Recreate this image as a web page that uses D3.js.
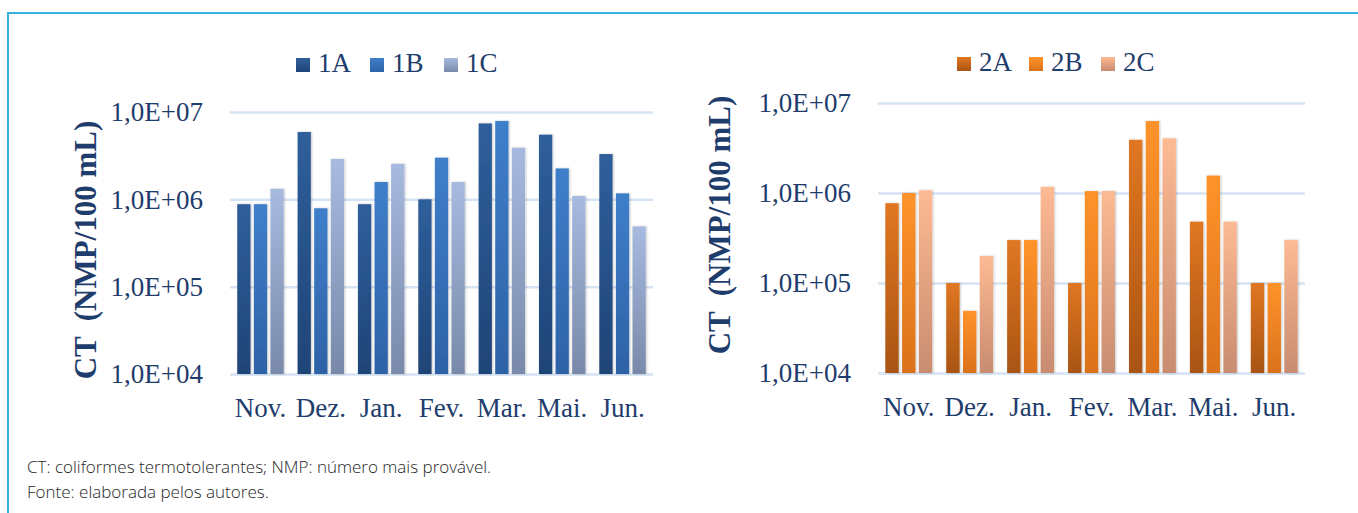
<!DOCTYPE html>
<html>
<head>
<meta charset="utf-8">
<script src="https://cdn.jsdelivr.net/npm/d3@7"></script>
<style>
	body { margin: 0; background: #fff; }
	svg { display: block; }
</style>
</head>
<body>
<script>
(function () {
	"use strict";

	// data
	var months = ["Nov.", "Dez.", "Jan.", "Fev.", "Mar.", "Mai.", "Jun."];
	var yTicks = [1e4, 1e5, 1e6, 1e7];
	var yTickLabels = ["1,0E+04", "1,0E+05", "1,0E+06", "1,0E+07"];
	var yTitle = "CT  (NMP/100 mL)";

	var series1 = ["1A", "1B", "1C"];
	var values1A = [8.8e5, 5.9e6, 8.8e5, 1.0e6, 7.4e6, 5.5e6, 3.3e6];
	var values1B = [8.8e5, 7.9e5, 1.58e6, 3.0e6, 7.9e6, 2.26e6, 1.17e6];
	var values1C = [1.32e6, 2.9e6, 2.55e6, 1.58e6, 3.9e6, 1.09e6, 4.9e5];

	var series2 = ["2A", "2B", "2C"];
	var values2A = [7.7e5, 1.0e5, 3.0e5, 1.0e5, 3.9e6, 4.8e5, 1.0e5];
	var values2B = [1.0e6, 4.9e4, 3.0e5, 1.05e6, 6.3e6, 1.56e6, 1.0e5];
	var values2C = [1.07e6, 2.0e5, 1.17e6, 1.05e6, 4.05e6, 4.8e5, 3.0e5];

	var notes = [
		"CT: coliformes termotolerantes; NMP: número mais provável.",
		"Fonte: elaborada pelos autores."
	];

	var w = 1358;
	var h = 513;
	var serif = "'Liberation Serif', 'Times New Roman', serif";
	var ink = "#1f3d6c";

	var svg = d3.select("body")
		.append("svg")
		.attr("width", w)
		.attr("height", h);

	var defs = svg.append("defs");

	var shadow = defs.append("filter")
		.attr("id", "shadow")
		.attr("x", "-30%").attr("y", "-5%")
		.attr("width", "160%").attr("height", "110%");
	shadow.append("feDropShadow")
		.attr("dx", 1).attr("dy", 0)
		.attr("stdDeviation", 1.2)
		.attr("flood-color", "#000")
		.attr("flood-opacity", 0.22);

	function gradient(id, top, bottom) {
		var g = defs.append("linearGradient")
			.attr("id", id)
			.attr("x1", 0).attr("y1", 0)
			.attr("x2", 0).attr("y2", 1);
		g.append("stop").attr("offset", "0%").attr("stop-color", top);
		g.append("stop").attr("offset", "100%").attr("stop-color", bottom);
		return "url(#" + id + ")";
	}

	// frame
	svg.append("path")
		.attr("d", "M8,513 V13 H1358")
		.attr("fill", "none")
		.attr("stroke", "#35b3de")
		.attr("stroke-width", 2);

	function buildChart(o) {
		var g = svg.append("g");

		var y = d3.scaleLog()
			.domain([1e4, 1e7])
			.range([o.bottom, o.top]);

		var x0 = d3.scaleBand()
			.domain(months)
			.range([o.left, o.right])
			.paddingInner(0.23)
			.paddingOuter(0.12);

		var x1 = d3.scaleBand()
			.domain(o.series)
			.range([0, x0.bandwidth()])
			.paddingInner(0.2);

		// gridlines + labels
		var yAxis = g.append("g")
			.attr("transform", "translate(" + o.left + ",0)")
			.call(d3.axisLeft(y)
				.tickValues(yTicks)
				.tickFormat(function (d, i) { return yTickLabels[i]; })
				.tickSize(-(o.right - o.left))
				.tickPadding(27));
		yAxis.select(".domain").remove();
		yAxis.selectAll("line")
			.attr("stroke", "#d5e3f3")
			.attr("stroke-width", 2.5);
		yAxis.selectAll("text")
			.attr("font-family", serif)
			.attr("font-size", 27)
			.attr("fill", ink)
			.attr("dy", "0.33em");

		var fills = o.series.map(function (s, i) {
			return gradient("grad" + s, o.colors[i][0], o.colors[i][1]);
		});

		// bars
		var rows = months.map(function (m, mi) {
			return o.series.map(function (s, si) {
				return { month: m, key: s, si: si, value: o.values[si][mi] };
			});
		});

		g.append("g")
			.selectAll("g")
			.data(rows)
			.enter().append("g")
			.attr("transform", function (d) { return "translate(" + x0(d[0].month) + ",0)"; })
			.selectAll("rect")
			.data(function (d) { return d; })
			.enter().append("rect")
			.attr("x", function (d) { return x1(d.key); })
			.attr("y", function (d) { return y(d.value); })
			.attr("width", x1.bandwidth())
			.attr("height", function (d) { return y(1e4) - y(d.value); })
			.attr("fill", function (d) { return fills[d.si]; })
			.attr("filter", "url(#shadow)");

		// month labels
		var xAxis = g.append("g")
			.attr("transform", "translate(0," + o.bottom + ")")
			.call(d3.axisBottom(x0).tickSize(0).tickPadding(24));
		xAxis.select(".domain").remove();
		xAxis.selectAll("text")
			.attr("font-family", serif)
			.attr("font-size", 27)
			.attr("fill", ink);

		// axis title
		g.append("text")
			.attr("transform", "translate(" + o.titleX + "," + o.titleY + ") rotate(-90)")
			.attr("text-anchor", "middle")
			.attr("font-family", serif)
			.attr("font-weight", "bold")
			.attr("font-size", 31)
			.attr("fill", ink)
			.style("white-space", "pre")
			.text(yTitle);

		// legend
		var leg = g.append("g")
			.selectAll("g")
			.data(o.series)
			.enter().append("g")
			.attr("transform", function (d, i) { return "translate(" + (o.legendX + i * o.legendStep) + "," + o.legendY + ")"; });
		leg.append("rect")
			.attr("y", -14)
			.attr("width", 14)
			.attr("height", 14)
			.attr("fill", function (d, i) { return fills[i]; });
		leg.append("text")
			.attr("x", 22)
			.attr("font-family", serif)
			.attr("font-size", 27)
			.attr("fill", ink)
			.text(function (d) { return d; });
	}

	buildChart({
		series: series1,
		values: [values1A, values1B, values1C],
		colors: [["#2f5f9c", "#1f4477"], ["#3f7fca", "#2e62a6"], ["#a7badf", "#7989aa"]],
		left: 230, right: 653, top: 112, bottom: 374,
		titleX: 96, titleY: 250,
		legendX: 296, legendY: 72, legendStep: 74
	});

	buildChart({
		series: series2,
		values: [values2A, values2B, values2C],
		colors: [["#e07722", "#a95414"], ["#ff932b", "#da721c"], ["#fdba93", "#c88c70"]],
		left: 878, right: 1305, top: 103, bottom: 373,
		titleX: 730, titleY: 225,
		legendX: 957, legendY: 71, legendStep: 72
	});

	// notes
	svg.append("g")
		.selectAll("text")
		.data(notes)
		.enter().append("text")
		.attr("x", 27)
		.attr("y", function (d, i) { return 473 + i * 25; })
		.attr("font-family", "'Open Sans', sans-serif")
		.attr("font-weight", 300)
		.attr("font-size", 17)
		.attr("fill", "#262626")
		.text(function (d) { return d; });
})();
</script>
</body>
</html>
